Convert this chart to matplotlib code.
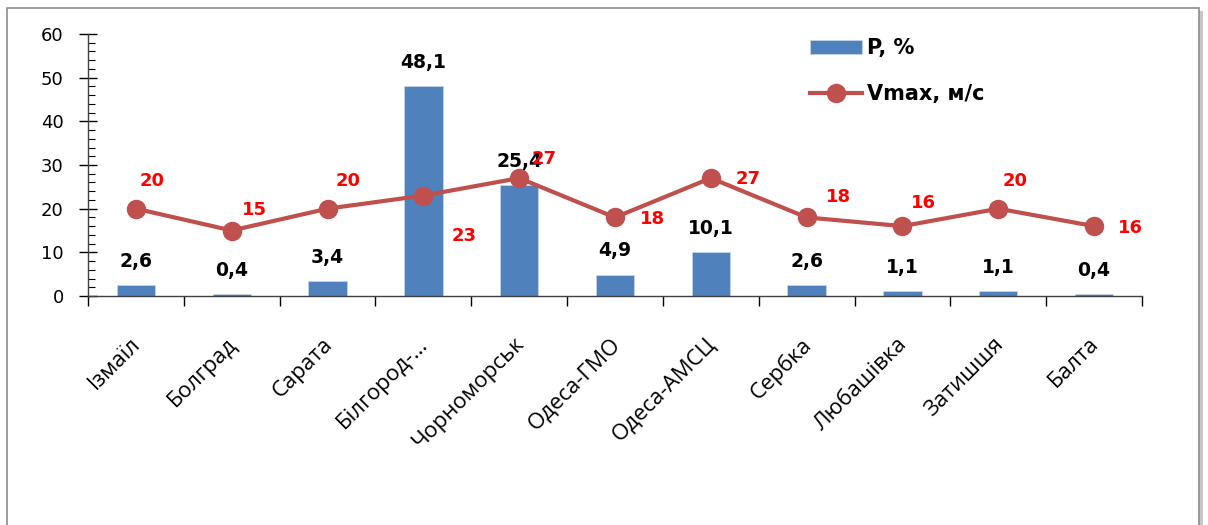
import matplotlib.pyplot as plt
import numpy as np
from matplotlib.patches import Rectangle
from matplotlib.ticker import MultipleLocator
from matplotlib.transforms import ScaledTranslation

stations = ['Ізмаїл', 'Болград', 'Сарата', 'Білгород-…', 'Чорноморськ', 'Одеса-ГМО',
            'Одеса-АМСЦ', 'Сербка', 'Любашівка', 'Затишшя', 'Балта']
p_percent = [2.6, 0.4, 3.4, 48.1, 25.4, 4.9, 10.1, 2.6, 1.1, 1.1, 0.4]
v_max = [20, 15, 20, 23, 27, 18, 27, 18, 16, 20, 16]

# hand-placed offsets (points) of the red speed labels
v_label_offsets = [(12, 20), (16, 15), (15, 20), (29, -29), (18, 14), (27, -1),
                   (27, -1), (23, 15), (15, 17), (12, 20), (26, -1)]

bar_color = '#4F81BD'
line_color = '#C0504D'

fig = plt.figure(figsize=(12.08, 5.25), dpi=100)

# chart frame with a light shadow
fig.patches.append(Rectangle((11 / 1208, -0.05), 1192 / 1208, 1.05 - 11 / 525,
                             transform=fig.transFigure, facecolor='#c8c8c8',
                             edgecolor='none', zorder=0))
fig.patches.append(Rectangle((7 / 1208, -0.05), 1192 / 1208, 1.05 - 8 / 525,
                             transform=fig.transFigure, facecolor='white',
                             edgecolor='#8c8c8c', linewidth=1.2, zorder=1))

ax = fig.add_axes([88 / 1208, 229 / 525, 1054 / 1208, 262 / 525])
ax.set_zorder(2)
ax.patch.set_alpha(0)

x = np.arange(len(stations))
bars = ax.bar(x, p_percent, width=0.4, color=bar_color, edgecolor='#c5d5ea',
              linewidth=0.6, label='P, %', zorder=2)
line, = ax.plot(x, v_max, color=line_color, linewidth=3, marker='o', markersize=13,
                label='Vmax, м/с', zorder=3)

for xi, val in zip(x, p_percent):
    ax.annotate(f'{val:.1f}'.replace('.', ','), (xi, val), xytext=(0, 17),
                textcoords='offset points', ha='center', va='center',
                fontsize=13.5, fontweight='bold', color='black', zorder=4)

for xi, val, off in zip(x, v_max, v_label_offsets):
    ax.annotate(str(val), (xi, val), xytext=off, textcoords='offset points',
                ha='center', va='center', fontsize=13, fontweight='bold',
                color='#FF0000', zorder=5)

ax.set_xlim(-0.5, len(stations) - 0.5)
ax.set_ylim(0, 60)
ax.yaxis.set_major_locator(MultipleLocator(10))
ax.yaxis.set_minor_locator(MultipleLocator(2))
ax.tick_params(axis='y', which='major', direction='inout', length=13, width=1,
               labelsize=13, pad=11)
ax.tick_params(axis='y', which='minor', direction='in', length=5, width=0.8)

ax.set_xticks(x)
ax.set_xticklabels(stations, rotation=45, ha='right', va='top',
                   rotation_mode='anchor', fontsize=16, family='Open Sans')
ax.set_xticks(np.arange(len(stations) + 1) - 0.5, minor=True)
ax.tick_params(axis='x', which='major', length=0, pad=27)
ax.tick_params(axis='x', which='minor', direction='out', length=7, width=1)
shift = ScaledTranslation(-4 / 72, 0, fig.dpi_scale_trans)
for lbl in ax.get_xticklabels():
    lbl.set_transform(lbl.get_transform() + shift)

for side in ['top', 'right']:
    ax.spines[side].set_visible(False)
for side in ['left', 'bottom']:
    ax.spines[side].set_color('#404040')
    ax.spines[side].set_linewidth(1)

ax.legend(handles=[bars, line], loc='upper left', bbox_to_anchor=(0.667, 1.055),
          frameon=False, prop={'weight': 'bold', 'size': 15}, handlelength=2.5,
          labelspacing=1.25, handletextpad=0.25)

fig.savefig('out.png', dpi=100)
